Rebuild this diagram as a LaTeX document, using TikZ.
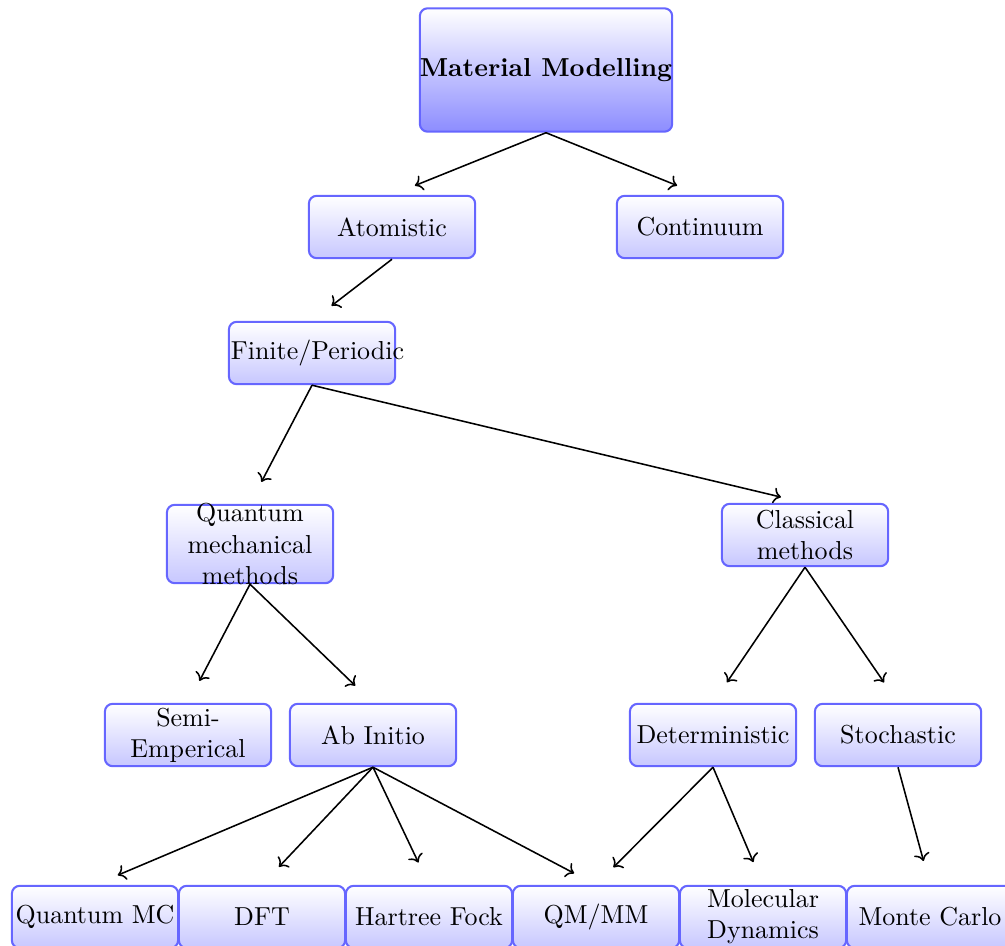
\documentclass[tikz,border=0pt]{standalone}
\usepackage{amsmath, amssymb}
\usepackage{tikz}
\usetikzlibrary{arrows.meta}

\begin{document}
\begin{tikzpicture}[x=0.385pt, y=-0.385pt,
    box/.style={draw=blue!60, line width=0.8pt, rounded corners=3pt,
      top color=white, bottom color=blue!22, text width=62.5pt,
      align=center, minimum height=24pt, inner xsep=0.75pt, inner ysep=1.5pt},
    link/.style={->, semithick, shorten >=9.5pt}]
	\useasboundingbox (0,0) rectangle (1005,945);

	% Top of the tree
	\node[box, text width={}, inner xsep=0pt, minimum height=47.5pt, bottom color=blue!45] (mm) at (546,70) {\textbf{Material Modelling}};
	\node[box] (atom) at (392,227) {Atomistic};
	\node[box] (cont) at (700,227) {Continuum};
	\node[box] (fin) at (312,353) {Finite/Periodic};

	% Method families
	\node[box, inner ysep=-0.5pt] (qm) at (250,544) {Quantum mechanical methods};
	\node[box] (clas) at (805,535) {Classical methods};
	\node[box] (semi) at (188,735) {Semi-\\Emperical};
	\node[box] (abin) at (373,735) {Ab Initio};
	\node[box] (det) at (713,735) {Deterministic};
	\node[box] (stoch) at (898,735) {Stochastic};

	% Bottom row of methods
	\node[box] (qmc) at (95,917) {Quantum MC};
	\node[box] (dft) at (262,917) {DFT};
	\node[box] (hf) at (429,917) {Hartree Fock};
	\node[box] (qmmm) at (596,917) {QM/MM};
	\node[box] (md) at (763,917) {Molecular Dynamics};
	\node[box] (mc) at (930,917) {Monte Carlo};

	% Arrows from parent to child
	\draw[link] (mm.south) -- (atom.north);
	\draw[link] (mm.south) -- (cont.north);
	\draw[link] (atom.south) -- (fin.north);
	\draw[link] (fin.south) -- (qm.north);
	\draw[link] (fin.south) -- (clas.north);
	\draw[link] (qm.south) -- (semi.north);
	\draw[link] (qm.south) -- (abin.north);
	\draw[link] (clas.south) -- (det.north);
	\draw[link] (clas.south) -- (stoch.north);
	\foreach \c in {qmc, dft, hf, qmmm}
		\draw[link] (abin.south) -- (\c.north);
	\draw[link] (det.south) -- (qmmm.north);
	\draw[link] (det.south) -- (md.north);
	\draw[link] (stoch.south) -- (mc.north);
\end{tikzpicture}
\end{document}
